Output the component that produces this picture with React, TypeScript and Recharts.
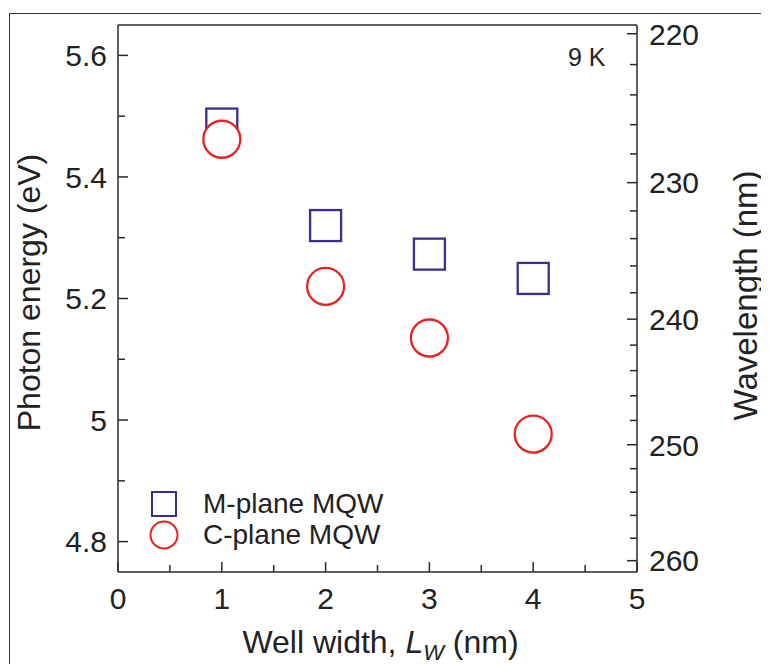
import { ScatterChart, Scatter, XAxis, YAxis, Legend } from 'recharts';

// hc in eV·nm, used to place the wavelength axis on the energy scale
const HC = 1239.84;

const wellWidths = [1, 2, 3, 4];
const mPlaneEnergy = [5.487, 5.32, 5.273, 5.233];
const cPlaneEnergy = [5.462, 5.22, 5.135, 4.977];

const xTicks = [0, 1, 2, 3, 4, 5];
const xMinorTicks = [0.5, 1.5, 2.5, 3.5, 4.5];
const energyTicks = [4.8, 5, 5.2, 5.4, 5.6];
const energyMinorTicks = [4.9, 5.1, 5.3, 5.5];
const wavelengthTicks = [220, 230, 240, 250, 260];
const wavelengthMinorTicks = [222, 224, 226, 228, 232, 234, 236, 238, 242, 244, 246, 248, 252, 254, 256, 258];

const M_COLOR = '#3d2c95';
const C_COLOR = '#e5231f';
const AXIS = '#2a2a2a';
const TEXT = '#222';
const TICK_FONT = 30;
const TITLE_FONT = 32;
const energyDomain: [number, number] = [4.75, 5.65];

const allXTicks = [...xTicks, ...xMinorTicks].sort((a, b) => a - b);
const allEnergyTicks = [...energyTicks, ...energyMinorTicks].sort((a, b) => a - b);
const allWavelengths = [...wavelengthTicks, ...wavelengthMinorTicks].sort((a, b) => a - b);

const mPlane = wellWidths.map((x, i) => ({ x, e: mPlaneEnergy[i] }));
const cPlane = wellWidths.map((x, i) => ({ x, e: cPlaneEnergy[i] }));

// tick gaps between axis line and label
const LEFT_GAP = 11;
const RIGHT_GAP = 12;
const BOTTOM_GAP = 16;

const SquareMark = (props: any) => {
  const { cx, cy } = props;
  return <rect x={cx - 15.5} y={cy - 15.5} width={31} height={31} fill="#fff" stroke={M_COLOR} strokeWidth={2.3} />;
};

const CircleMark = (props: any) => {
  const { cx, cy } = props;
  return <circle cx={cx} cy={cy} r={18.5} fill="#fff" stroke={C_COLOR} strokeWidth={2.3} />;
};

// inward tick marks are drawn here, labels only on major ticks
const BottomTick = (props: any) => {
  const { x, y, payload } = props;
  const major = xTicks.includes(payload.value);
  const ay = y - BOTTOM_GAP;
  return (
    <g>
      <line x1={x} x2={x} y1={ay} y2={ay - (major ? 10 : 7)} stroke={AXIS} strokeWidth={1.5} />
      {major && (
        <text x={x} y={y} dy="0.71em" textAnchor="middle" fontSize={TICK_FONT} fill={TEXT}>
          {payload.value}
        </text>
      )}
    </g>
  );
};

const TopTick = (props: any) => {
  const { x, y, payload } = props;
  const major = xTicks.includes(payload.value);
  return <line x1={x} x2={x} y1={y} y2={y + (major ? 10 : 7)} stroke={AXIS} strokeWidth={1.5} />;
};

const LeftTick = (props: any) => {
  const { x, y, payload } = props;
  const major = energyTicks.includes(payload.value);
  const ax = x + LEFT_GAP;
  return (
    <g>
      <line x1={ax} x2={ax + (major ? 10 : 7)} y1={y} y2={y} stroke={AXIS} strokeWidth={1.5} />
      {major && (
        <text x={x} y={y} dy="0.36em" textAnchor="end" fontSize={TICK_FONT} fill={TEXT}>
          {payload.value}
        </text>
      )}
    </g>
  );
};

const RightTick = (props: any) => {
  const { x, y, payload } = props;
  const nm = Math.round(HC / payload.value);
  const major = wavelengthTicks.includes(nm);
  const ax = x - RIGHT_GAP;
  return (
    <g>
      <line x1={ax} x2={ax - (major ? 10 : 7)} y1={y} y2={y} stroke={AXIS} strokeWidth={1.5} />
      {major && (
        <text x={x} y={y} dy="0.36em" textAnchor="start" fontSize={TICK_FONT} fill={TEXT}>
          {nm}
        </text>
      )}
    </g>
  );
};

const XTitle = ({ viewBox }: any) => (
  <text x={viewBox.x + viewBox.width / 2 + 3} y={viewBox.y + 81} textAnchor="middle" fontSize={TITLE_FONT} fill={TEXT}>
    Well width, <tspan fontStyle="italic">L</tspan>
    <tspan fontStyle="italic" fontSize={22} dy={7}>W</tspan>
    <tspan dy={-7}> (nm)</tspan>
  </text>
);

const LeftTitle = ({ viewBox }: any) => (
  <text
    transform={`translate(${viewBox.x + 21}, ${viewBox.y + viewBox.height / 2 - 6}) rotate(-90)`}
    textAnchor="middle"
    dominantBaseline="central"
    fontSize={TITLE_FONT}
    fill={TEXT}
  >
    Photon energy (eV)
  </text>
);

const RightTitle = ({ viewBox }: any) => (
  <text
    transform={`translate(${viewBox.x + 108}, ${viewBox.y + viewBox.height / 2 - 3}) rotate(-90)`}
    textAnchor="middle"
    dominantBaseline="central"
    fontSize={33}
    fill={TEXT}
  >
    Wavelength (nm)
  </text>
);

const legendItems = [
  { name: 'M-plane MQW', color: M_COLOR, square: true },
  { name: 'C-plane MQW', color: C_COLOR, square: false },
];

const LegendBox = () => (
  <div>
    {legendItems.map((item) => (
      <div key={item.name} style={{ display: 'flex', alignItems: 'center', height: 31 }}>
        <svg width={30} height={30}>
          {item.square ? (
            <rect x={3} y={3} width={24} height={24} fill="#fff" stroke={item.color} strokeWidth={2} />
          ) : (
            <circle cx={15} cy={15} r={13.5} fill="#fff" stroke={item.color} strokeWidth={2} />
          )}
        </svg>
        <span style={{ marginLeft: 24, fontSize: 28, color: TEXT, whiteSpace: 'nowrap' }}>{item.name}</span>
      </div>
    ))}
  </div>
);

export default function App() {
  return (
    <div
      style={{
        position: 'relative',
        width: 761,
        height: 656,
        overflow: 'hidden',
        fontFamily: '"Liberation Sans", Arial, sans-serif',
        background: '#fff',
      }}
    >
      <div
        style={{
          position: 'absolute',
          left: 1,
          top: 5,
          right: -10,
          bottom: -10,
          borderTop: '1.5px solid #333',
          borderLeft: '1.5px solid #333',
        }}
      />
      <div style={{ position: 'absolute', left: 560, top: 35, fontSize: 25, color: TEXT }}>9 K</div>
      <ScatterChart width={761} height={656} margin={{ top: 16, right: 0, bottom: 0, left: 0 }}>
        <XAxis
          xAxisId="x"
          type="number"
          dataKey="x"
          domain={[0, 5]}
          ticks={allXTicks}
          interval={0}
          allowDataOverflow
          height={92}
          stroke={AXIS}
          strokeWidth={1.5}
          tickLine={false}
          tickSize={0}
          tickMargin={BOTTOM_GAP}
          tick={<BottomTick />}
          label={<XTitle />}
        />
        <XAxis
          xAxisId="top"
          type="number"
          orientation="top"
          domain={[0, 5]}
          ticks={allXTicks}
          interval={0}
          allowDataOverflow
          height={1}
          stroke={AXIS}
          strokeWidth={1.5}
          tickLine={false}
          tickSize={0}
          tickMargin={0}
          tick={<TopTick />}
        />
        <YAxis
          yAxisId="e"
          type="number"
          dataKey="e"
          domain={energyDomain}
          ticks={allEnergyTicks}
          interval={0}
          allowDataOverflow
          width={110}
          stroke={AXIS}
          strokeWidth={1.5}
          tickLine={false}
          tickSize={0}
          tickMargin={LEFT_GAP}
          tick={<LeftTick />}
          label={<LeftTitle />}
        />
        <YAxis
          yAxisId="wl"
          type="number"
          orientation="right"
          domain={energyDomain}
          ticks={allWavelengths.map((l) => HC / l)}
          interval={0}
          allowDataOverflow
          width={132}
          stroke={AXIS}
          strokeWidth={1.5}
          tickLine={false}
          tickSize={0}
          tickMargin={RIGHT_GAP}
          tick={<RightTick />}
          label={<RightTitle />}
        />
        <Legend
          layout="vertical"
          align="center"
          verticalAlign="middle"
          content={<LegendBox />}
          wrapperStyle={{ left: 141, top: 480, width: 'auto' }}
        />
        <Scatter
          name="M-plane MQW"
          data={mPlane}
          xAxisId="x"
          yAxisId="e"
          shape={SquareMark}
          isAnimationActive={false}
        />
        <Scatter
          name="C-plane MQW"
          data={cPlane}
          xAxisId="x"
          yAxisId="e"
          shape={CircleMark}
          isAnimationActive={false}
        />
      </ScatterChart>
    </div>
  );
}
